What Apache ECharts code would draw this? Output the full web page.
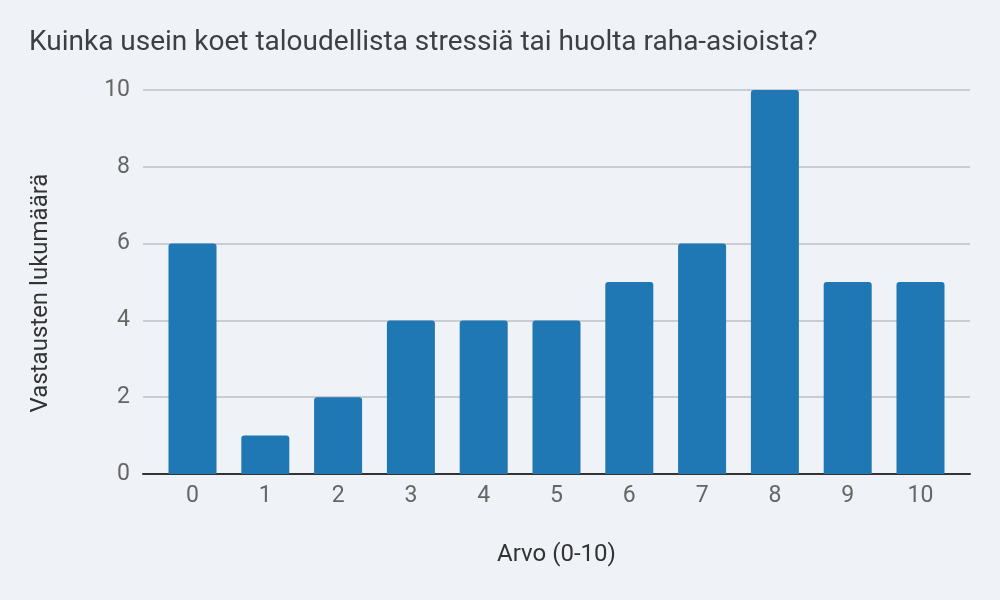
<!DOCTYPE html>
<html>
<head>
<meta charset="utf-8">
<script src="https://cdn.jsdelivr.net/npm/echarts@6/dist/echarts.min.js"></script>
<style>
  html, body { margin: 0; padding: 0; background: #eff3f8; }
  #chart { width: 1000px; height: 600px; }
</style>
</head>
<body>
<div id="chart"></div>
<script>
// arvot 0-10 ja vastausten määrät
const categories = ["0", "1", "2", "3", "4", "5", "6", "7", "8", "9", "10"];
const counts = [6, 1, 2, 4, 4, 4, 5, 6, 10, 5, 5];
const yTicks = [0, 2, 4, 6, 8, 10];

const chart = echarts.init(document.getElementById("chart"));

const option = {
  backgroundColor: "#eff3f8",
  textStyle: { fontFamily: "Roboto" },
  title: {
    text: "Kuinka usein koet taloudellista stressiä tai huolta raha-asioista?",
    left: 29,
    top: 29,
    padding: 0,
    textStyle: { fontFamily: "Roboto", fontSize: 28, fontWeight: "normal", color: "#3c3f43" },
  },
  grid: { left: 143, right: 30, top: 90, bottom: 126 },
  xAxis: {
    type: "value",
    min: -0.68,
    max: 10.68,
    name: "Arvo (0-10)",
    nameLocation: "middle",
    nameGap: 69,
    nameTextStyle: { fontSize: 24, color: "#333" },
    axisLine: { show: true, onZero: false, lineStyle: { color: "#333", width: 2 } },
    axisTick: { show: false },
    splitLine: { show: false },
    axisLabel: {
      customValues: categories.map((_, i) => i),
      formatter: (v) => categories[Math.round(v)],
      fontSize: 23,
      color: "#666",
      margin: 11,
    },
  },
  yAxis: {
    type: "value",
    min: 0,
    max: 10,
    interval: 2,
    name: "Vastausten lukumäärä",
    nameLocation: "middle",
    nameGap: 90,
    nameTextStyle: { fontSize: 24, color: "#333", padding: [0, 22, 0, 0] },
    axisLine: { show: false },
    axisTick: { show: false },
    axisLabel: {
      customValues: yTicks,
      fontSize: 23,
      color: "#666",
      margin: 13,
    },
    splitLine: { lineStyle: { color: "#bcbfc4", width: 1.5 } },
  },
  series: [
    {
      type: "bar",
      data: counts.map((v, i) => [i, v]),
      barWidth: 48,
      itemStyle: { color: "#1f77b4", borderRadius: [3, 3, 0, 0] },
    },
  ],
};

chart.setOption(option);
</script>
</body>
</html>
